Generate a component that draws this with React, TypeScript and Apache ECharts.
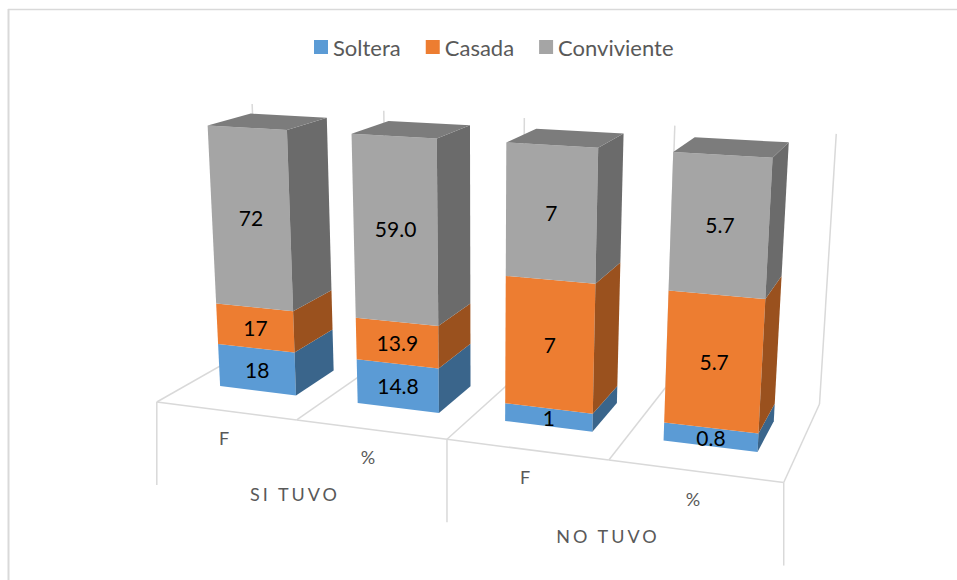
import React, { useEffect, useRef } from "react";
import * as echarts from "echarts";

const groups = ["SI TUVO", "NO TUVO"];
const measures = ["F", "%", "F", "%"];
const soltera = [18, 14.8, 1, 0.8];
const casada = [17, 13.9, 7, 5.7];
const conviviente = [72, 59.0, 7, 5.7];

const FONT = "Lato";
const GRID_LINE = "#D9D9D9";
const TEXT = "#595959";
const UNIT_X = 100; // hidden grid: px per category

// Perspective camera of the 3D plot: world X (category 0..4), Y (0..1), Z (depth 0..1)
const CAM = {
  ox: 156.8, oy: 402,
  vx: [-3750, -100], vy: [482, 5850], vz: [1052, -106],
  kx: -0.03457, ky: -0.047, kz: 0.1327,
};
function project(X: number, Y: number, Z: number): number[] {
  const a = CAM.kx * X, b = CAM.ky * Y, c = CAM.kz * Z;
  const w = 1 + a + b + c;
  return [
    (CAM.ox + a * CAM.vx[0] + b * CAM.vy[0] + c * CAM.vz[0]) / w,
    (CAM.oy + a * CAM.vx[1] + b * CAM.vy[1] + c * CAM.vz[1]) / w,
  ];
}

const BAR_GAP = 0.22;
const Z0 = 0.3;
const Z1 = 0.7;

function stackRows(idx: number) {
  return measures.map((_, i) => {
    const vals = [soltera[i], casada[i], conviviente[i]];
    const total = vals[0] + vals[1] + vals[2];
    const before = vals.slice(0, idx).reduce((s, v) => s + v, 0);
    return [i, (before / total) * 100, ((before + vals[idx]) / total) * 100, vals[idx]];
  });
}

function barRenderer(front: string, side: string, top: string | null) {
  return (_params: any, api: any) => {
    const i = api.value(0);
    const [x0, yLo] = api.coord([i + BAR_GAP, api.value(1)]);
    const [x1, yHi] = api.coord([i + 1 - BAR_GAP, api.value(2)]);
    const XA = x0 / UNIT_X, XB = x1 / UNIT_X;
    const lo = (100 - yLo) / 100, hi = (100 - yHi) / 100;
    const fa = project(XA, lo, Z0), fb = project(XB, lo, Z0);
    const fc = project(XB, hi, Z0), fd = project(XA, hi, Z0);
    const ba = project(XB, lo, Z1), bb = project(XB, hi, Z1);
    const children: any[] = [
      { type: "polygon", shape: { points: [fa, fb, fc, fd] }, style: { fill: front } },
      { type: "polygon", shape: { points: [fb, ba, bb, fc] }, style: { fill: side } },
    ];
    if (top) {
      children.push({
        type: "polygon",
        shape: { points: [fd, fc, bb, project(XA, hi, Z1)] },
        style: { fill: top },
      });
    }
    const raw = api.value(3);
    children.push({
      type: "text",
      style: {
        text: i % 2 === 1 ? raw.toFixed(1) : String(raw),
        x: (fa[0] + fb[0] + fc[0] + fd[0]) / 4,
        y: (fa[1] + fb[1] + fc[1] + fd[1]) / 4,
        align: "center",
        verticalAlign: "middle",
        fontFamily: FONT,
        fontSize: 21,
        fill: "#000000",
      },
    });
    return { type: "group", children };
  };
}

function frameRenderer(_params: any, api: any) {
  const i = api.value(0);
  const line = (a: number[], b: number[]) => ({
    type: "line",
    shape: { x1: a[0], y1: a[1], x2: b[0], y2: b[1] },
    style: { stroke: GRID_LINE, lineWidth: 1.5 },
  });
  const children: any[] = [
    line(project(i, 0, 0), project(i, 0, 1)),
    line(project(i, 0, 1), project(i, 1, 1)),
  ];
  if (i < 4) children.push(line(project(i, 0, 0), project(i + 1, 0, 0)));
  if (i % 2 === 0) {
    const p = project(i, 0, 0);
    children.push(line(p, [p[0], p[1] + 83]));
  }
  return { type: "group", children };
}

export default function App() {
  const ref = useRef<HTMLDivElement>(null);
  useEffect(() => {
    const chart = echarts.init(ref.current!, undefined, { renderer: "svg" });
    const seriesDefs = [
      { name: "Soltera", idx: 0, front: "#5B9BD5", side: "#3A658B", top: null },
      { name: "Casada", idx: 1, front: "#ED7D31", side: "#9A511E", top: null },
      { name: "Conviviente", idx: 2, front: "#A5A5A5", side: "#6B6B6B", top: "#7C7C7C" },
    ];
    const labelStyle = (text: string, x: number, y: number, size: number) => ({
      type: "text",
      x,
      y,
      silent: true,
      style: {
        text, fontFamily: FONT, fontSize: size, fill: TEXT,
        align: "center", verticalAlign: "middle",
      },
    });
    chart.setOption({
      animation: false,
      backgroundColor: "#FFFFFF",
      grid: { left: 0, top: 0, width: 4 * UNIT_X, height: 100 },
      xAxis: { type: "value", min: 0, max: 4, show: false },
      yAxis: { type: "value", min: 0, max: 100, show: false },
      legend: {
        data: seriesDefs.map((s) => s.name),
        left: 309,
        top: 31,
        itemWidth: 14,
        itemHeight: 14,
        itemGap: 25,
        icon: "rect",
        selectedMode: false,
        textStyle: { fontFamily: FONT, fontSize: 22, color: TEXT },
      },
      graphic: [
        { type: "line", silent: true, shape: { x1: 8, y1: 9.5, x2: 957, y2: 9.5 }, style: { stroke: GRID_LINE, lineWidth: 1.5 } },
        { type: "line", silent: true, shape: { x1: 8.5, y1: 9, x2: 8.5, y2: 580 }, style: { stroke: GRID_LINE, lineWidth: 2 } },
        labelStyle(measures[0], 224, 438, 18),
        labelStyle(measures[1], 368, 457, 18),
        labelStyle(measures[2], 525, 477, 18),
        labelStyle(measures[3], 693, 499, 18),
        labelStyle(groups[0], 295, 494, 18),
        labelStyle(groups[1], 608, 536, 18),
      ],
      series: [
        {
          name: "marco",
          type: "custom",
          silent: true,
          z: 1,
          renderItem: frameRenderer,
          data: [[0], [1], [2], [3], [4]],
        },
        ...seriesDefs.map((s) => ({
          name: s.name,
          type: "custom",
          silent: true,
          z: 2,
          itemStyle: { color: s.front },
          renderItem: barRenderer(s.front, s.side, s.top),
          data: stackRows(s.idx),
          encode: { x: 0, y: 2 },
        })),
      ],
    });
    const spaceGroups = () => {
      ref.current?.querySelectorAll("text").forEach((t) => {
        if (groups.includes(t.textContent || "")) {
          (t as SVGTextElement).style.letterSpacing = "3px";
        }
      });
    };
    spaceGroups();
    chart.on("finished", spaceGroups);
    return () => chart.dispose();
  }, []);
  return (
    <div
      ref={ref}
      style={{ position: "fixed", left: 0, top: 0, width: 957, height: 580, background: "#fff" }}
    />
  );
}
